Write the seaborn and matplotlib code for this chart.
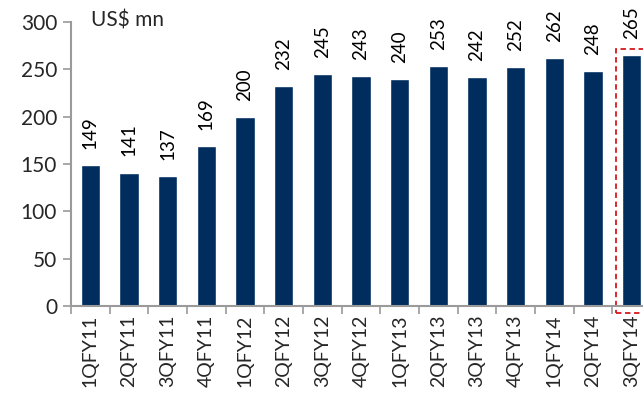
import seaborn as sns
import matplotlib.pyplot as plt
from matplotlib.patches import Rectangle
import pandas as pd

quarters = ['1QFY11', '2QFY11', '3QFY11', '4QFY11', '1QFY12', '2QFY12', '3QFY12', '4QFY12',
            '1QFY13', '2QFY13', '3QFY13', '4QFY13', '1QFY14', '2QFY14', '3QFY14']
revenue = [149, 141, 137, 169, 200, 232, 245, 243, 240, 253, 242, 252, 262, 248, 265]

df = pd.DataFrame({'quarter': quarters, 'revenue': revenue})

sns.set_style('white')
plt.rcParams['font.family'] = ['Lato', 'DejaVu Sans']

fig = plt.figure(figsize=(6.43, 3.99), dpi=100)
# axes runs off the right edge like the original clip
ax = fig.add_axes([71 / 643, 93 / 399, 580 / 643, 284 / 399])
sns.barplot(data=df, x='quarter', y='revenue', color='#002D5E', width=0.5,
            saturation=1, ax=ax)

for i, v in enumerate(revenue):
    ax.text(i, v + 17, str(v), rotation=90, ha='center', va='bottom', fontsize=13.5,
            color='black', clip_on=False)

ax.set_xlim(-0.5, len(quarters) - 0.5)
ax.set_ylim(0, 300)
ax.set_yticks(range(0, 301, 50))
ax.set_xlabel('')
ax.set_ylabel('')
ax.set_xticks(range(len(quarters)))
ax.set_xticklabels(quarters, rotation=90, fontsize=14)
ax.tick_params(axis='y', labelsize=15, length=6, width=1.2, color='#9a9a9a', direction='out', left=True, pad=4)
ax.tick_params(axis='x', length=0, pad=6)
# x ticks between categories
ax.set_xticks([i - 0.5 for i in range(len(quarters) + 1)], minor=True)
ax.tick_params(axis='x', which='minor', length=6, width=1.2, color='#9a9a9a', bottom=True)

sns.despine(ax=ax, top=True, right=True)
for s in ['left', 'bottom']:
    ax.spines[s].set_color('#9a9a9a')
    ax.spines[s].set_linewidth(1.5)

ax.text(0.035, 1.005, 'US$ mn', transform=ax.transAxes, fontsize=15, va='center', ha='left')

# dashed highlight box around the latest quarter
ax.add_patch(Rectangle((13.6, -7), 0.85, 279, fill=False, edgecolor='#D7191C',
                       linestyle=(0, (3, 2)), linewidth=1.3, clip_on=False))

fig.savefig('out.png', dpi=100)
